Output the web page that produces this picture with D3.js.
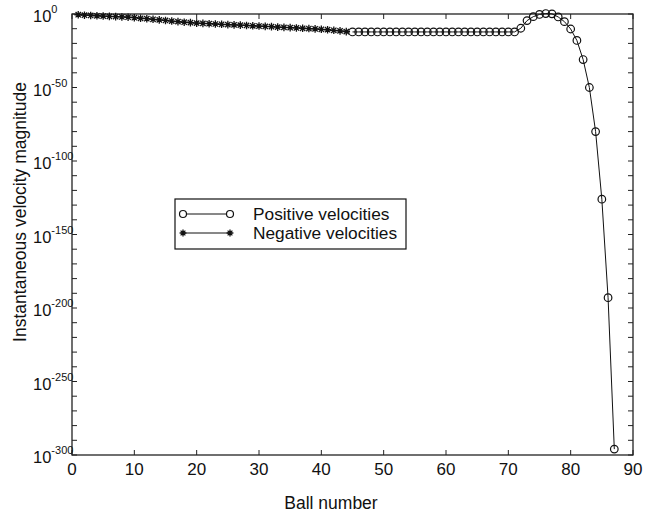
<!DOCTYPE html>
<html>
<head>
<meta charset="utf-8">
<script src="https://cdn.jsdelivr.net/npm/d3@7"></script>
<style>
  body { margin: 0; background: #fff; }
  svg text { font-family: "Liberation Sans", Arial, Helvetica, sans-serif; fill: #111; }
</style>
</head>
<body>
<svg width="652" height="516"></svg>
<script>
// ball numbers and log10 of the velocity magnitude
const negBalls = d3.range(1, 45);
const negExp = [-0.5, -0.8, -1.0, -1.2, -1.4, -1.6, -1.8, -2.0, -2.2, -2.5,
                -2.9, -3.2, -3.6, -4.0, -4.4, -4.8, -5.2, -5.6, -5.9, -6.2,
                -6.4, -6.6, -6.8, -7.0, -7.2, -7.4, -7.6, -7.8, -8.0, -8.2,
                -8.4, -8.6, -8.9, -9.1, -9.3, -9.5, -9.7, -9.9, -10.1, -10.4,
                -10.7, -11.1, -11.5, -12.0];

const posBalls = d3.range(45, 88);
const posExp = [-12.2, -12.2, -12.2, -12.2, -12.2, -12.2, -12.2, -12.2, -12.2, -12.2,
                -12.2, -12.2, -12.2, -12.2, -12.2, -12.2, -12.2, -12.2, -12.2, -12.2,
                -12.2, -12.2, -12.2, -12.2, -12.2, -12.2, -12.2,
                -9.7, -4.5, -1.8, -0.3, 0.3, 0.1, -2.0, -5.2, -10.2,
                -18, -31, -50, -80, -126, -193, -296];

const xTicks = [0, 10, 20, 30, 40, 50, 60, 70, 80, 90];
const yTickExp = [0, -50, -100, -150, -200, -250, -300];
const yMinorExp = d3.range(-300, 1, 10);

const negData = negBalls.map((b, i) => ({ b: b, v: Math.pow(10, negExp[i]) }));
const posData = posBalls.map((b, i) => ({ b: b, v: Math.pow(10, posExp[i]) }));

const margin = { top: 14, right: 19, bottom: 61, left: 72 };
const svg = d3.select("svg"),
      width = +svg.attr("width") - margin.left - margin.right,
      height = +svg.attr("height") - margin.top - margin.bottom;

const x = d3.scaleLinear().domain([0, 90]).range([0, width]);
const y = d3.scaleLog().domain([1e-300, 1]).range([height, 0]);

const g = svg.append("g").attr("transform", `translate(${margin.left},${margin.top})`);
const axisColor = "#222";

// frame
g.append("rect")
  .attr("width", width).attr("height", height)
  .attr("fill", "none").attr("stroke", axisColor).attr("stroke-width", 1.3);

// ticks pointing inwards on all four sides
const tl = 5;
xTicks.forEach(t => {
  g.append("line").attr("x1", x(t)).attr("x2", x(t)).attr("y1", height).attr("y2", height - tl)
    .attr("stroke", axisColor);
  g.append("line").attr("x1", x(t)).attr("x2", x(t)).attr("y1", 0).attr("y2", tl)
    .attr("stroke", axisColor);
  g.append("text").attr("x", x(t)).attr("y", height + 20)
    .attr("text-anchor", "middle").attr("font-size", 17).text(t);
});

yMinorExp.forEach(e => {
  const yy = y(Math.pow(10, e));
  g.append("line").attr("x1", 0).attr("x2", tl).attr("y1", yy).attr("y2", yy).attr("stroke", axisColor);
  g.append("line").attr("x1", width).attr("x2", width - tl).attr("y1", yy).attr("y2", yy).attr("stroke", axisColor);
});

yTickExp.forEach(e => {
  const yy = y(Math.pow(10, e));
  const t = svg.append("text")
    .attr("x", 33).attr("y", margin.top + yy + 8)
    .attr("font-size", 16.5);
  t.append("tspan").text("10");
  t.append("tspan").attr("font-size", 11).attr("dy", -9).text(e);
});

// lines
const line = d3.line().x(d => x(d.b)).y(d => y(d.v));
g.append("path").datum(posData).attr("d", line)
  .attr("fill", "none").attr("stroke", "#111").attr("stroke-width", 1);
g.append("path").datum(negData).attr("d", line)
  .attr("fill", "none").attr("stroke", "#111").attr("stroke-width", 1);

// markers
function star(sel, cx, cy, s) {
  const a = s * 0.7;
  sel.append("path")
    .attr("d", `M${cx - s},${cy}H${cx + s}M${cx},${cy - s}V${cy + s}` +
               `M${cx - a},${cy - a}L${cx + a},${cy + a}M${cx - a},${cy + a}L${cx + a},${cy - a}`)
    .attr("stroke", "#111").attr("stroke-width", 1.3).attr("fill", "none");
}
const mk = g.append("g");
posData.forEach(d => {
  mk.append("circle").attr("cx", x(d.b)).attr("cy", y(d.v)).attr("r", 3.8)
    .attr("fill", "none").attr("stroke", "#111").attr("stroke-width", 1.2);
});
negData.forEach(d => star(mk, x(d.b), y(d.v), 3.8));

// legend
const lg = svg.append("g");
lg.append("rect").attr("x", 175).attr("y", 199).attr("width", 231).attr("height", 50)
  .attr("fill", "#fff").attr("stroke", "#111").attr("stroke-width", 1.2);
lg.append("line").attr("x1", 183).attr("x2", 230).attr("y1", 214).attr("y2", 214)
  .attr("stroke", "#111");
[183, 230].forEach(cx => lg.append("circle").attr("cx", cx).attr("cy", 214).attr("r", 3.5)
  .attr("fill", "#fff").attr("stroke", "#111").attr("stroke-width", 1.2));
lg.append("line").attr("x1", 183).attr("x2", 230).attr("y1", 233).attr("y2", 233)
  .attr("stroke", "#111");
[183, 230].forEach(cx => star(lg, cx, 233, 3.4));
lg.append("text").attr("x", 253).attr("y", 220).attr("font-size", 17.3).text("Positive velocities");
lg.append("text").attr("x", 253).attr("y", 239).attr("font-size", 17.3).text("Negative velocities");

// axis titles
svg.append("text").attr("x", 331).attr("y", 509).attr("text-anchor", "middle")
  .attr("font-size", 17.5).text("Ball number");
svg.append("text").attr("transform", "translate(26,212) rotate(-90)")
  .attr("text-anchor", "middle").attr("font-size", 17.5).text("Instantaneous velocity magnitude");
</script>
</body>
</html>
